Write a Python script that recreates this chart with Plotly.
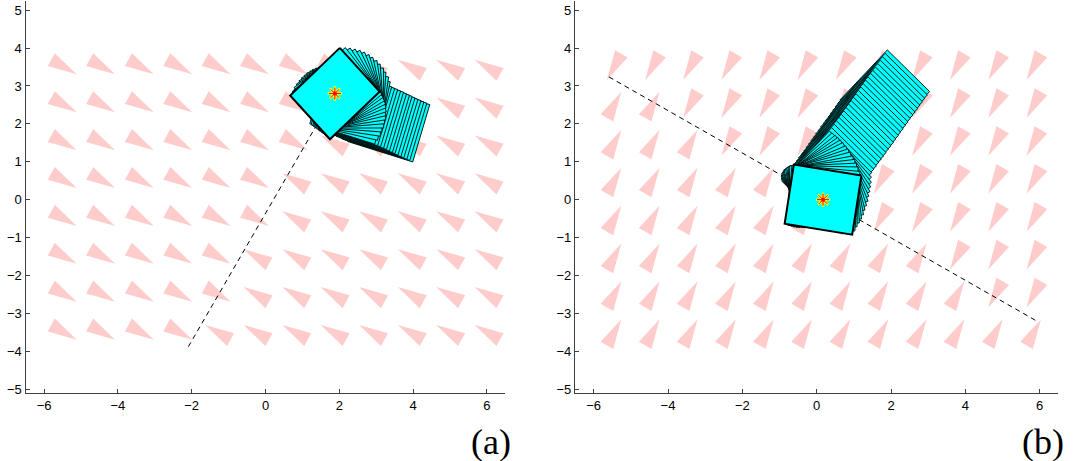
import numpy as np
import plotly.graph_objects as go

# ---------------- data ----------------
grid_x_a = [-5.46, -4.42, -3.37, -2.33, -1.29, -0.25, 0.80, 1.84, 2.88, 3.93, 4.97, 6.01]
grid_x_b = [-5.45, -4.42, -3.40, -2.37, -1.35, -0.32, 0.71, 1.73, 2.76, 3.78, 4.81, 5.84]
grid_y = [3.5, 2.5, 1.5, 0.5, -0.5, -1.5, -2.5, -3.5]

# arrow direction per cell (rows top->bottom)
field_a = ["LLLLLLLLRRRR",
           "LLLLLLLRRRRR",
           "LLLLLLLRRRRR",
           "LLLLLLRRRRRR",
           "LLLLLLRRRRRR",
           "LLLLLRRRRRRR",
           "LLLLLRRRRRRR",
           "LLLLRRRRRRRR"]
field_b = ["AAAAAAAAAAAA",
           "BBAAAAAAAAAA",
           "BBBAAAAAAAAA",
           "BBBBBAAAAAAA",
           "BBBBBBBAAAAA",
           "BBBBBBBBBAAA",
           "BBBBBBBBBBAA",
           "BBBBBBBBBBBB"]
arrow_dir_a = {"L": -29.4, "R": 150.6}
arrow_dir_b = {"A": -119.4, "B": 60.6}

# dashed reference lines
line_a_x = [-2.09, 1.88]
line_a_y = [-3.88, 2.80]
line_b_x = [-5.59, 5.95]
line_b_y = [3.24, -3.22]

# box poses (center x, center y, angle in degrees)
pose_a_cx = [3.34, 3.26, 3.18, 3.10, 3.02, 2.94, 2.86, 2.79, 2.71, 2.63, 2.55, 2.47, 2.39, 2.31,
             2.31, 2.31, 2.29, 2.28, 2.25, 2.23, 2.19, 2.16, 2.12, 2.08, 2.03, 1.98, 1.94, 1.88]
pose_a_cy = [2.02, 2.06, 2.09, 2.13, 2.16, 2.20, 2.24, 2.27, 2.31, 2.35, 2.38, 2.42, 2.45, 2.49,
             2.54, 2.59, 2.64, 2.68, 2.72, 2.75, 2.78, 2.80, 2.82, 2.83, 2.83, 2.83, 2.82, 2.80]
pose_a_ang = [-17, -17, -17, -17, -17, -17, -17, -17, -17, -17, -17, -17, -17, -17,
              -12.7, -8.4, -4.1, 0.1, 4.4, 8.7, 13.0, 17.3, 21.6, 25.9, 30.1, 34.4, 38.7, 43.0]

pose_b_cx = [1.83, 1.77, 1.70, 1.64, 1.57, 1.51, 1.44, 1.38, 1.31, 1.25, 1.18, 1.12, 1.05,
             0.99, 0.92, 0.86, 0.79, 0.72, 0.66, 0.59, 0.53, 0.46, 0.40, 0.33, 0.27,
             0.26, 0.26, 0.25, 0.24, 0.23, 0.23, 0.22, 0.21, 0.21, 0.20, 0.19, 0.18, 0.18, 0.17]
pose_b_cy = [2.74, 2.65, 2.56, 2.47, 2.38, 2.29, 2.20, 2.12, 2.03, 1.94, 1.85, 1.76, 1.67,
             1.58, 1.49, 1.40, 1.31, 1.22, 1.13, 1.04, 0.96, 0.87, 0.78, 0.69, 0.60,
             0.56, 0.51, 0.47, 0.43, 0.39, 0.34, 0.30, 0.26, 0.21, 0.17, 0.13, 0.09, 0.04, 0.00]
pose_b_ang = [46] * 25 + [42.1, 38.1, 34.2, 30.3, 26.4, 22.4, 18.5, 14.6, 10.6, 6.7, 2.8, -1.1, -5.1, -9.0]

box_w = 1.84
box_h = 1.58
arrow_len = 0.79
arrow_halfw = 0.195

x_ticks = [-6, -4, -2, 0, 2, 4, 6]
y_ticks = [-5, -4, -3, -2, -1, 0, 1, 2, 3, 4, 5]

PINK = "#ffcccc"
CYAN = "#00ffff"

fig = go.Figure()


def arrows(gx, gy, field, dirs):
    xs, ys = [], []
    for r, y0 in enumerate(gy):
        for c, x0 in enumerate(gx):
            a = np.deg2rad(dirs[field[r][c]])
            dx, dy = np.cos(a), np.sin(a)
            nx, ny = -dy, dx
            bx, by = x0 - dx * arrow_len / 2, y0 - dy * arrow_len / 2
            tx, ty = x0 + dx * arrow_len / 2, y0 + dy * arrow_len / 2
            xs += [bx + nx * arrow_halfw, tx, bx - nx * arrow_halfw, bx + nx * arrow_halfw, None]
            ys += [by + ny * arrow_halfw, ty, by - ny * arrow_halfw, by + ny * arrow_halfw, None]
    return xs, ys


def box(cx, cy, ang):
    t = np.deg2rad(ang)
    ux, uy = np.cos(t), np.sin(t)
    vx, vy = -uy, ux
    xs, ys = [], []
    for sx, sy in [(1, 1), (-1, 1), (-1, -1), (1, -1), (1, 1)]:
        xs.append(cx + sx * ux * box_w / 2 + sy * vx * box_h / 2)
        ys.append(cy + sx * uy * box_w / 2 + sy * vy * box_h / 2)
    return xs, ys


panels = [
    ("x", "y", grid_x_a, field_a, arrow_dir_a, line_a_x, line_a_y, pose_a_cx, pose_a_cy, pose_a_ang),
    ("x2", "y2", grid_x_b, field_b, arrow_dir_b, line_b_x, line_b_y, pose_b_cx, pose_b_cy, pose_b_ang),
]

for xa, ya, gx, field, dirs, lx, ly, pcx, pcy, pang in panels:
    ax, ay = arrows(gx, grid_y, field, dirs)
    fig.add_trace(go.Scatter(x=ax, y=ay, xaxis=xa, yaxis=ya, mode="lines", fill="toself",
                             fillcolor=PINK, line=dict(width=0, color=PINK),
                             hoverinfo="skip", showlegend=False))
    fig.add_trace(go.Scatter(x=lx, y=ly, xaxis=xa, yaxis=ya, mode="lines",
                             line=dict(color="black", width=1, dash="5px,4px"),
                             hoverinfo="skip", showlegend=False))
    n = len(pcx)
    for i in range(n):
        bx, by = box(pcx[i], pcy[i], pang[i])
        fig.add_trace(go.Scatter(x=bx, y=by, xaxis=xa, yaxis=ya, mode="lines", fill="toself",
                                 fillcolor=CYAN,
                                 line=dict(color="black", width=2 if i == n - 1 else 0.9),
                                 hoverinfo="skip", showlegend=False))
    # goal marker
    fig.add_trace(go.Scatter(x=[pcx[-1]], y=[pcy[-1]], xaxis=xa, yaxis=ya, mode="markers",
                             marker=dict(symbol="asterisk-open", size=12, color="yellow",
                                         line=dict(color="yellow", width=2.5)),
                             hoverinfo="skip", showlegend=False))
    fig.add_trace(go.Scatter(x=[pcx[-1]], y=[pcy[-1]], xaxis=xa, yaxis=ya, mode="markers",
                             marker=dict(symbol="asterisk-open", size=10, color="red",
                                         line=dict(color="red", width=1)),
                             hoverinfo="skip", showlegend=False))
    fig.add_trace(go.Scatter(x=[pcx[-1]], y=[pcy[-1]], xaxis=xa, yaxis=ya, mode="markers",
                             marker=dict(symbol="circle", size=4, color="red"),
                             hoverinfo="skip", showlegend=False))

axis_common = dict(showline=True, linecolor="#404040", linewidth=1.3, mirror=False,
                   showgrid=False, zeroline=False, ticks="inside", ticklen=4,
                   tickcolor="#404040", tickwidth=1,
                   tickfont=dict(family="Liberation Sans", size=13, color="black"),
                   automargin=False)

W, H = 1076, 461
ydom = [(H - 393.3) / H, (H - 0.7) / H]
fig.update_layout(
    width=W, height=H,
    margin=dict(l=0, r=0, t=0, b=0),
    paper_bgcolor="white", plot_bgcolor="white",
    xaxis=dict(domain=[25.6 / W, 505.4 / W], range=[-6.5, 6.5], tickvals=x_ticks, **axis_common),
    yaxis=dict(domain=ydom, range=[-5.11, 5.25], tickvals=y_ticks, anchor="x", **axis_common),
    xaxis2=dict(domain=[575.1 / W, 1058.3 / W], range=[-6.5, 6.5], tickvals=x_ticks,
                anchor="y2", **axis_common),
    yaxis2=dict(domain=ydom, range=[-5.11, 5.25], tickvals=y_ticks, anchor="x2", **axis_common),
    annotations=[
        dict(text="(a)", x=491 / W, y=(H - 442) / H, xref="paper", yref="paper",
             xanchor="center", yanchor="middle", showarrow=False,
             font=dict(family="Liberation Serif", size=36, color="black")),
        dict(text="(b)", x=1043 / W, y=(H - 442) / H, xref="paper", yref="paper",
             xanchor="center", yanchor="middle", showarrow=False,
             font=dict(family="Liberation Serif", size=36, color="black")),
    ],
)

fig.write_html("out.html", config={"displayModeBar": False},
               post_script="document.body.style.margin='0px';document.body.style.padding='0px';")
